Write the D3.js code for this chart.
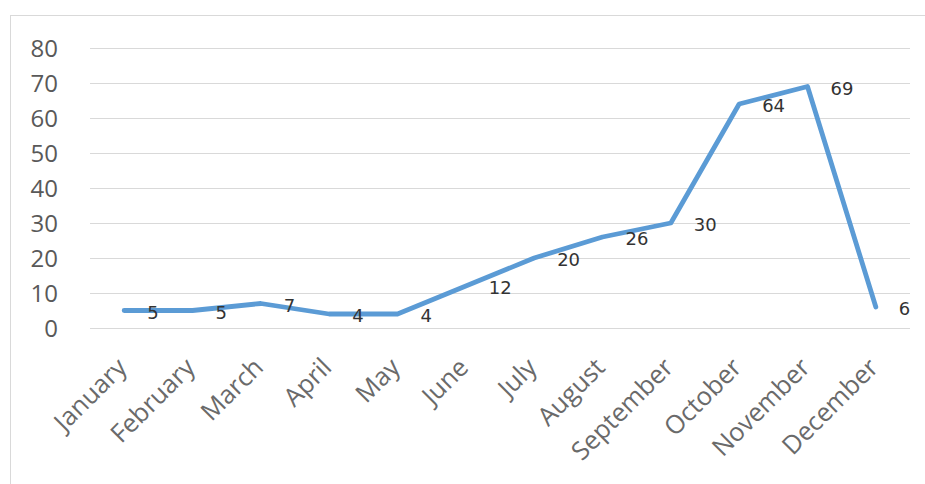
<!DOCTYPE html>
<html><head><meta charset="utf-8">
<script src="https://cdn.jsdelivr.net/npm/d3@7"></script>
<style>body{margin:0;background:#fff;}svg{display:block;}</style>
</head><body>
<svg id="chart" width="925" height="484"></svg>
<script>
const months = ["January","February","March","April","May","June","July","August","September","October","November","December"];
const values = [5,5,7,4,4,12,20,26,30,64,69,6];
const yTicks = [0,10,20,30,40,50,60,70,80];

const svg = d3.select("#chart");
const W = 925, H = 484;
const plotLeft = 90, plotRight = 910, plotTop = 48, plotBottom = 328;

svg.append("rect").attr("x",0).attr("y",0).attr("width",W).attr("height",H).attr("fill","#fff");
// chart border
svg.append("rect").attr("x",10.5).attr("y",15.5).attr("width",W+20).attr("height",H+20)
  .attr("fill","none").attr("stroke","#d9d9d9").attr("stroke-width",1);

const x = d3.scaleBand().domain(months).range([plotLeft,plotRight]);
const y = d3.scaleLinear().domain([0,80]).range([plotBottom,plotTop]);

// gridlines
svg.append("g").selectAll("line").data(yTicks).join("line")
  .attr("x1",plotLeft).attr("x2",plotRight)
  .attr("y1",d=>Math.round(y(d))+0.5).attr("y2",d=>Math.round(y(d))+0.5)
  .attr("stroke","#d9d9d9").attr("stroke-width",1);

// y labels
const yAxis = d3.axisLeft(y).tickValues(yTicks).tickSize(0).tickPadding(0);
const gy = svg.append("g").attr("transform","translate(58,0)").call(yAxis);
gy.select(".domain").remove();
gy.selectAll("text").attr("font-family","'Open Sans', sans-serif").attr("font-size",24)
  .attr("fill","#595959").attr("dy","0.35em");

// x labels
const xAxis = d3.axisBottom(x).tickSize(0).tickPadding(0);
const gx = svg.append("g").attr("transform",`translate(0,${plotBottom})`).call(xAxis);
gx.select(".domain").remove();
gx.selectAll("text")
  .attr("font-family","'Open Sans', sans-serif").attr("font-size",25.5).attr("fill","#6a6a6a")
  .attr("text-anchor","end").attr("dy",0).attr("y",0)
  .attr("transform","translate(4,41) rotate(-45)");

// line
const line = d3.line().x((d,i)=>x(months[i])+x.bandwidth()/2).y(d=>y(d));
svg.append("path").datum(values).attr("d",line)
  .attr("fill","none").attr("stroke","#5b9bd5").attr("stroke-width",4.8)
  .attr("stroke-linejoin","round").attr("stroke-linecap","round");

// data labels
svg.append("g").selectAll("text").data(values).join("text")
  .attr("x",(d,i)=>x(months[i])+x.bandwidth()/2+23)
  .attr("y",d=>y(d)+2)
  .attr("dy","0.35em")
  .attr("font-family","'DejaVu Sans', Verdana, sans-serif").attr("font-size",18)
  .attr("fill","#333")
  .text(d=>d);
</script>
</body></html>
